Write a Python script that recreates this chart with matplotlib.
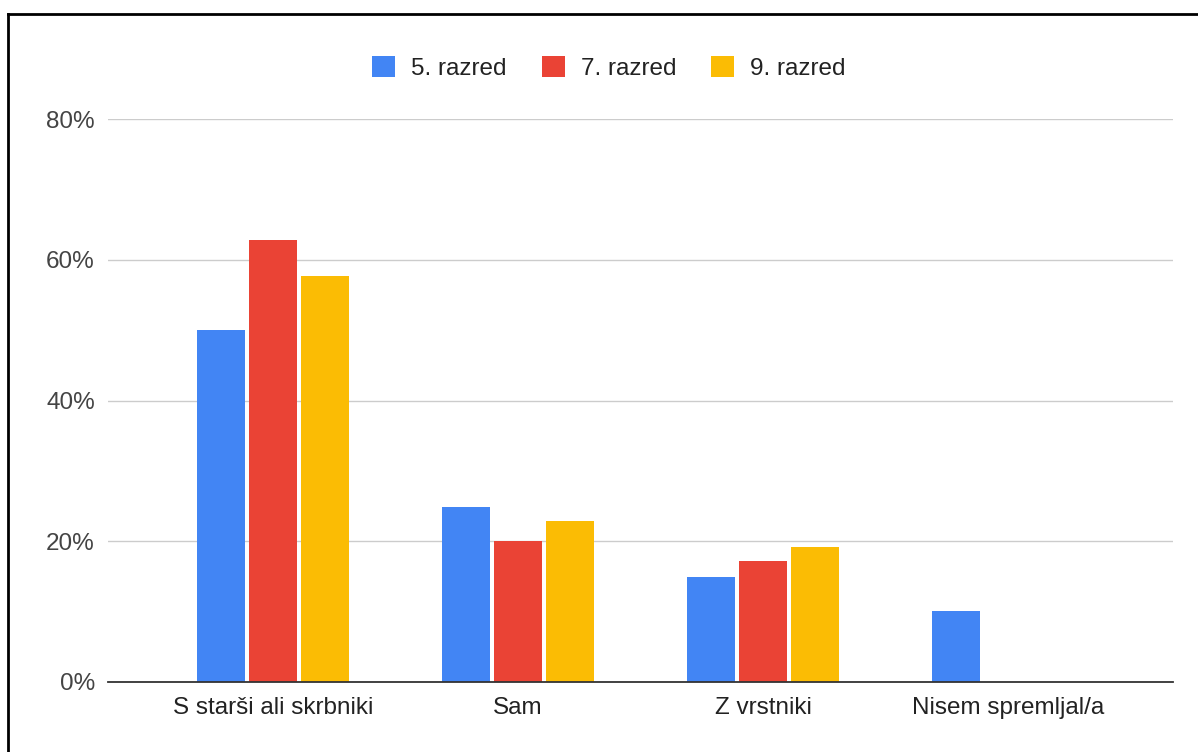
import matplotlib

matplotlib.use('Agg')
import matplotlib.pyplot as plt
from matplotlib.lines import Line2D
from matplotlib.patches import Patch
import numpy as np

categories = ['S starši ali skrbniki', 'Sam', 'Z vrstniki', 'Nisem spremljal/a']
series_names = ['5. razred', '7. razred', '9. razred']
grade5 = [50.0, 24.9, 14.9, 10.1]
grade7 = [62.8, 20.0, 17.2, 0.0]
grade9 = [57.7, 22.9, 19.2, 0.0]
colors = ['#4285F4', '#EA4335', '#FBBC04']
y_ticks = [0, 20, 40, 60, 80]

plt.rcParams['font.family'] = ['Liberation Sans', 'DejaVu Sans']

fig = plt.figure(figsize=(11.98, 7.52), dpi=100)
ax = fig.add_axes([108 / 1198, 1 - 682 / 752, 1065 / 1198, 563 / 752])

x = np.arange(len(categories))
width = 0.196
step = 0.212
for i, (vals, col) in enumerate(zip([grade5, grade7, grade9], colors)):
    ax.bar(x + (i - 1) * step, vals, width, color=col, zorder=3)

ax.set_xlim(-0.673, 3.673)
ax.set_ylim(0, 80)
ax.set_yticks(y_ticks)
ax.set_yticklabels(['{}%'.format(t) for t in y_ticks], fontsize=17.5, color='#444444')
ax.set_xticks(x)
ax.set_xticklabels(categories, fontsize=17.5, color='#222222')
ax.tick_params(axis='both', length=0)
ax.tick_params(axis='y', pad=9.4)
ax.tick_params(axis='x', pad=11)

ax.grid(axis='y', color='#cccccc', linewidth=1, zorder=0)
for side in ['top', 'right', 'left']:
    ax.spines[side].set_visible(False)
ax.spines['bottom'].set_color('#333333')
ax.spines['bottom'].set_linewidth(1.3)
ax.spines['bottom'].set_zorder(4)

handles = [Patch(facecolor=c, edgecolor='none') for c in colors]
fig.legend(handles, series_names, loc='center', bbox_to_anchor=(609 / 1198, 1 - 68 / 752),
           ncol=3, frameon=False, fontsize=17.5, handlelength=0.95, handleheight=0.95,
           handletextpad=0.66, columnspacing=1.44, labelcolor='#222222')

# frame edges along the top and left of the image
fig.add_artist(Line2D([8 / 1198, 1], [1 - 14 / 752, 1 - 14 / 752], color='black', linewidth=2,
                      transform=fig.transFigure))
fig.add_artist(Line2D([8 / 1198, 8 / 1198], [0, 1 - 14 / 752], color='black', linewidth=2,
                      transform=fig.transFigure))

fig.savefig('out.png', dpi=100)
